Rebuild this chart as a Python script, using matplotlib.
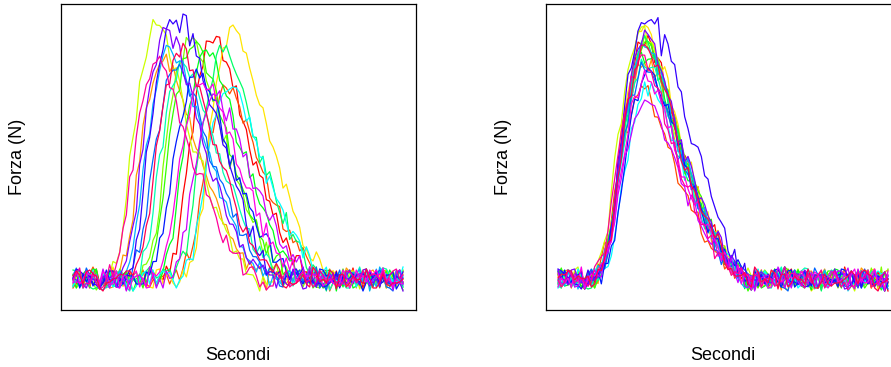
import numpy as np
import matplotlib
matplotlib.use("Agg")
import matplotlib.pyplot as plt
import colorsys

plt.rcParams['font.family'] = ['Liberation Sans', 'DejaVu Sans']

n_samples = 100

# pulse shape (fraction of peak force), one value per sample
pulse_shape = [0.0, 0.02, 0.05, 0.09, 0.14, 0.22, 0.32, 0.45, 0.56, 0.66, 0.75, 0.83, 0.90, 0.95, 0.99, 1.0,
               0.99, 0.97, 0.94, 0.90, 0.86, 0.81, 0.76, 0.71, 0.65, 0.60, 0.55, 0.51, 0.47, 0.43,
               0.39, 0.35, 0.31, 0.27, 0.24, 0.21, 0.18, 0.15, 0.12, 0.10, 0.08, 0.06, 0.04, 0.03,
               0.02, 0.01, 0.0]
# the longer push (blue-violet trial)
pulse_shape_long = [0.0, 0.02, 0.05, 0.09, 0.14, 0.22, 0.32, 0.45, 0.56, 0.66, 0.75, 0.83, 0.90, 0.95, 0.99, 1.0,
                    0.98, 0.99, 1.0, 0.99, 0.90, 0.92, 0.88, 0.84, 0.80, 0.76, 0.71, 0.66, 0.61, 0.56,
                    0.52, 0.48, 0.44, 0.40, 0.36, 0.32, 0.28, 0.24, 0.20, 0.17, 0.14, 0.11, 0.08, 0.06,
                    0.04, 0.03, 0.02, 0.01, 0.0]

# sensor noise (N)
noise = [4, -5, 8, -3, 1, -9, 5, 10, -4, 0, -7, 3, 9, -8, -1, 4, -11, 6, 1, -4,
         5, -3, -8, 12, 0, -5, 3, -1, 8, -6, 4, -9, 1, 7, -3, 0, -12, 5, 3, -4,
         9, -1, -5, 4, 8, -8, 0, 3, -4, 10, -7, 1, 5, -3, -9, 4, 0, 7, -5, 3,
         -1, 8, -4, -7, 5, 1, -10, 4, 9, -3, 0, -5, 7, 3, -8, 1, 4, -1, -4, 8,
         -3, 5, -7, 0, 11, -4, 3, -9, 1, 5, -1, 7, -5, 4, -8, 3, 0, -3, 9, -4]
noise_step = [1, 3, 7, 9, 11, 13, 17, 19, 21, 23, 27, 29, 31, 33, 37, 39, 41, 43, 47, 49]

# one entry per trial: start of the push (sample), peak force (N)
onset_raw = [27, 31, 12, 33, 10, 20, 21, 25, 30, 18, 32, 14, 16, 22, 15, 13, 28, 24, 10, 17]
onset_reg = [11, 10, 11, 11, 10, 11, 11, 11, 11, 11, 12, 11, 11, 12, 11, 11, 11, 11, 10, 11]
peak_force = [241, 187, 222, 251, 251, 240, 237, 226, 231, 215,
              194, 232, 212, 207, 258, 246, 179, 200, 216, 229]
long_trial = 14

n_trials = len(onset_raw)
colors = [colorsys.hsv_to_rgb(i / n_trials, 1, 1) for i in range(n_trials)]


def trial_curve(i, onset, offset):
    shape = pulse_shape_long if i == long_trial else pulse_shape
    y = np.zeros(n_samples)
    for k, v in enumerate(shape):
        if onset + k < n_samples:
            y[onset + k] = v * peak_force[i]
    idx = [(noise_step[i] * k + offset + 5 * i) % len(noise) for k in range(n_samples)]
    return y + np.array(noise, dtype=float)[idx]


fig = plt.figure(figsize=(8.91, 3.67), dpi=100)
W, H = 891, 367
panels = [(61, onset_raw, 0), (546, onset_reg, 37)]
t = np.arange(n_samples)

for x0, onsets, offset in panels:
    ax = fig.add_axes([x0 / W, (H - 310) / H, 355 / W, 306 / H])
    for i in range(n_trials):
        ax.plot(t, trial_curve(i, onsets[i], offset), color=colors[i], lw=0.9)
    ax.set_xlim(-3.6, 102.9)
    ax.set_ylim(-31, 275)
    ax.set_xticks([])
    ax.set_yticks([])
    for s in ax.spines.values():
        s.set_linewidth(0.9)
        s.set_color('black')
    fig.text((x0 + 177) / W, 1 - 355 / H, "Secondi", ha='center', va='center', fontsize=13)
    fig.text((x0 - 43) / W, 1 - 157 / H, "Forza (N)", ha='center', va='center',
             rotation=90, fontsize=13)

fig.savefig("out.png", dpi=100)
